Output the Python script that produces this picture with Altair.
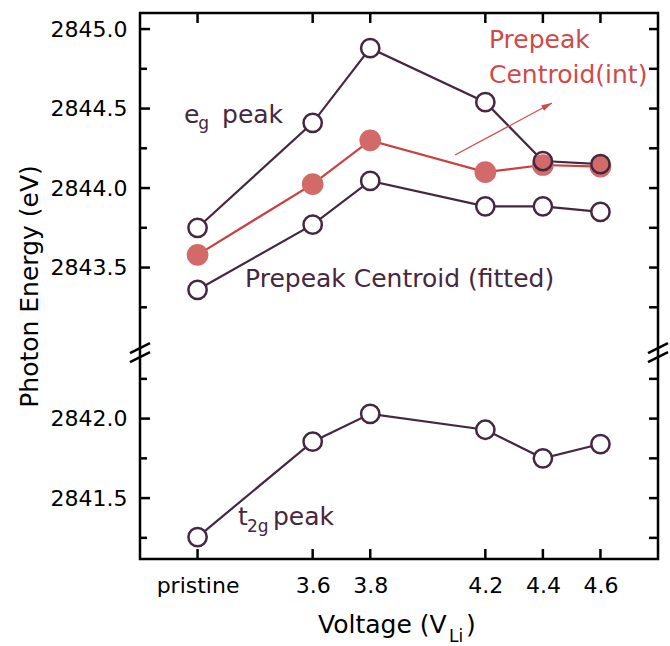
import altair as alt
import pandas as pd

# ---------------- data ----------------
voltages = [3.2, 3.6, 3.8, 4.2, 4.4, 4.6]
x_labels = ["pristine", "3.6", "3.8", "4.2", "4.4", "4.6"]

eg_peak = [2843.75, 2844.41, 2844.88, 2844.54, 2844.17, 2844.15]
centroid_int = [2843.58, 2844.025, 2844.30, 2844.10, 2844.145, 2844.135]
centroid_fit = [2843.36, 2843.77, 2844.045, 2843.885, 2843.885, 2843.85]
t2g_peak = [2841.255, 2841.855, 2842.03, 2841.93, 2841.75, 2841.84]

# broken axis: lower segment is drawn shifted up by this amount
BREAK_SHIFT = 0.55
upper_major = [2843.5, 2844.0, 2844.5, 2845.0]
upper_minor = [2843.25, 2843.75, 2844.25, 2844.75]
lower_major = [2841.5, 2842.0]
lower_minor = [2841.25, 2841.75, 2842.25]

X_DOMAIN = [3.0, 4.8]
Y_DOMAIN = [2841.667, 2845.101]
W, H = 518, 546

DARK = "#45283f"
RED_LINE = "#cc3f3f"
RED_FILL = "#d36a6a"
RED_TEXT = "#d04a4a"
FONT = "DejaVu Sans"

# ---------------- tables ----------------
rows = []
for name, vals, shift in [("eg", eg_peak, 0.0), ("fit", centroid_fit, 0.0),
                          ("t2g", t2g_peak, BREAK_SHIFT), ("int", centroid_int, 0.0)]:
    for v, e in zip(voltages, vals):
        rows.append({"series": name, "V": v, "E": e + shift})
df = pd.DataFrame(rows)
df_open = df[df.series != "int"]
df_int = df[df.series == "int"]

ymaj = pd.DataFrame({"E": upper_major + [e + BREAK_SHIFT for e in lower_major]})
ymin = pd.DataFrame({"E": upper_minor + [e + BREAK_SHIFT for e in lower_minor]})
yall = pd.concat([ymaj, ymin])
xt = pd.DataFrame({"V": voltages})

xs = alt.Scale(domain=X_DOMAIN, nice=False, zero=False)
ys = alt.Scale(domain=Y_DOMAIN, nice=False, zero=False)

label_expr_x = ("datum.value < 3.4 ? '" + x_labels[0] + "' : format(datum.value, '.1f')")
label_expr_y = ("datum.value < 2843 ? format(datum.value - " + str(BREAK_SHIFT) +
                ", '.1f') : format(datum.value, '.1f')")

x_axis = alt.Axis(values=voltages, labelExpr=label_expr_x, ticks=False, tickSize=0,
                  domain=False, grid=False, labelPadding=16, labelFontSize=22,
                  labelFont=FONT, labelColor="black", title=None)
y_axis = alt.Axis(values=ymaj["E"].tolist(), labelExpr=label_expr_y, ticks=False,
                  tickSize=0, domain=False, grid=False, labelPadding=13,
                  labelFontSize=22, labelFont=FONT, labelColor="black",
                  title="Photon Energy (eV)", titleFont=FONT, titleFontSize=25,
                  titleFontWeight="normal", titleColor="black", titlePadding=8)


def X(field="V"):
    return alt.X(field + ":Q", scale=xs, axis=x_axis)


def Y(field="E"):
    return alt.Y(field + ":Q", scale=ys, axis=y_axis)


lines = alt.Chart(df).mark_line(strokeWidth=2.2).encode(
    x=X(), y=Y(),
    detail="series:N",
    color=alt.Color("series:N", scale=alt.Scale(domain=["eg", "fit", "t2g", "int"],
                                                range=[DARK, DARK, DARK, RED_LINE]),
                    legend=None),
)

open_fill = alt.Chart(df_open).mark_point(filled=True, color="white", size=335,
                                          opacity=1).encode(x=X(), y=Y())
int_pts = alt.Chart(df_int).mark_point(filled=True, color=RED_FILL, size=470,
                                       opacity=1).encode(x=X(), y=Y())
open_ring = alt.Chart(df_open).mark_point(filled=False, color=DARK, size=335,
                                          strokeWidth=2.5, opacity=1).encode(x=X(), y=Y())


# ---- inward ticks ----
def yticks(data, x0, x1):
    return alt.Chart(data).mark_rule(color="black", strokeWidth=2.5).encode(
        y=Y(), x=alt.value(x0), x2=alt.value(x1))


def xticks(y0, y1):
    return alt.Chart(xt).mark_rule(color="black", strokeWidth=2.5).encode(
        x=X(), y=alt.value(y0), y2=alt.value(y1))


ticks = [yticks(ymaj, 0, 10), yticks(ymin, 0, 7), yticks(yall, W, W - 9),
         xticks(H, H - 10), xticks(0, 10)]

# ---- axis break marks ----
hw = 10 / (W / (X_DOMAIN[1] - X_DOMAIN[0]))
dv = 5 / (H / (Y_DOMAIN[1] - Y_DOMAIN[0]))
brk_rows = []
for xc in X_DOMAIN:
    for yc in [2842.994, 2842.937]:
        brk_rows.append({"V": xc - hw, "V2": xc + hw, "E": yc - dv, "E2": yc + dv})
breaks = alt.Chart(pd.DataFrame(brk_rows)).mark_rule(color="black", strokeWidth=2.5).encode(
    x=X(), x2="V2:Q", y=Y(), y2="E2:Q")

# ---- arrow ----
arrow_df = pd.DataFrame({"V": [4.0945], "V2": [4.4316], "E": [2844.208], "E2": [2844.535]})
arrow_line = alt.Chart(arrow_df).mark_rule(color=RED_TEXT, strokeWidth=1.2).encode(
    x=X(), x2="V2:Q", y=Y(), y2="E2:Q")
arrow_head = alt.Chart(arrow_df).mark_point(
    shape="M0,0L0.3,1L-0.3,1Z", filled=True, color=RED_TEXT, size=450, angle=62, opacity=1
).encode(x=X("V2"), y=Y("E2"))

# ---- annotations ----
ann = pd.DataFrame([
    {"V": 3.153, "E": 2844.409, "t": "e", "s": 25, "c": DARK},
    {"V": 3.202, "E": 2844.370, "t": "g", "s": 17, "c": DARK},
    {"V": 3.285, "E": 2844.409, "t": "peak", "s": 25, "c": DARK},
    {"V": 3.365, "E": 2843.378, "t": "Prepeak Centroid (fitted)", "s": 25, "c": DARK},
    {"V": 3.3405, "E": 2841.881, "t": "t", "s": 25, "c": DARK},
    {"V": 3.3718, "E": 2841.836, "t": "2g", "s": 17, "c": DARK},
    {"V": 3.4621, "E": 2841.881, "t": "peak", "s": 25, "c": DARK},
    {"V": 4.2127, "E": 2844.881, "t": "Prepeak", "s": 25, "c": RED_TEXT},
    {"V": 4.2127, "E": 2844.661, "t": "Centroid(int)", "s": 25, "c": RED_TEXT},
])
annotations = alt.Chart(ann).mark_text(align="left", baseline="alphabetic", font=FONT).encode(
    x=X(), y=Y(),
    text="t:N", size=alt.Size("s:Q", scale=None), color=alt.Color("c:N", scale=None))


# ---- x title with subscript ----
one_row = pd.DataFrame({"k": [0]})


def title_piece(txt, px, py, fs):
    return alt.Chart(one_row).mark_text(align="left", baseline="alphabetic", font=FONT,
                                        color="black", fontSize=fs, text=txt).encode(
        x=alt.value(px), y=alt.value(py))


xtitle_layers = [title_piece("Voltage (V", 178, 620, 25),
                 title_piece("Li", 309, 629, 17),
                 title_piece(")", 326, 620, 25)]

chart = alt.layer(
    lines, open_fill, int_pts, open_ring, *ticks, breaks, arrow_line, arrow_head,
    annotations, *xtitle_layers
).properties(
    width=W, height=H,
    autosize=alt.AutoSizeParams(type="none"),
    padding={"left": 140, "top": 13, "right": 12, "bottom": 87},
).configure(background="white").configure_view(stroke="black", strokeWidth=2.5)

chart.save("out.html", embed_options={"renderer": "svg", "actions": False})
